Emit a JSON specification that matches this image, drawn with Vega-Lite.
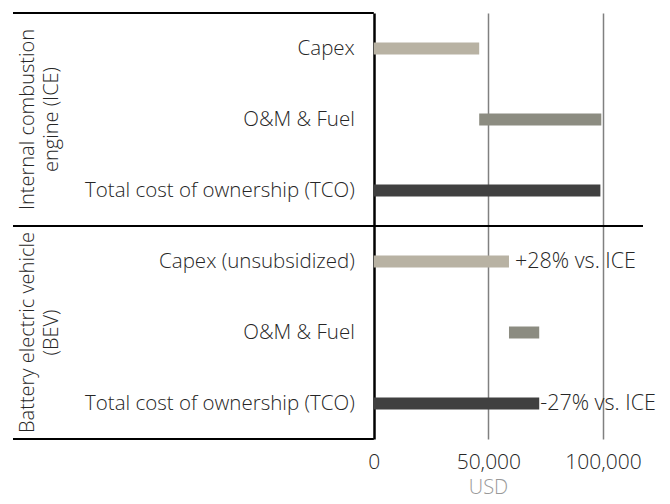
{
  "$schema": "https://vega.github.io/schema/vega-lite/v6.json",
  "width": 630,
  "height": 426,
  "padding": {"left": 12, "top": 12, "right": 10, "bottom": 2},
  "autosize": {"type": "pad"},
  "config": {"view": {"stroke": null}, "font": "Open Sans", "text": {"lineBreak": "\n", "fontWeight": 300}},
  "data": {"values": [
    {"key": "ICE|Capex", "item": "Capex", "label": "Capex", "start": 0, "end": 46000, "note": ""},
    {"key": "ICE|OM", "item": "O&M & Fuel", "label": "O&M & Fuel", "start": 46000, "end": 99300, "note": ""},
    {"key": "ICE|TCO", "item": "TCO", "label": "Total cost of ownership (TCO)", "start": 0, "end": 98900, "note": ""},
    {"key": "BEV|Capex", "item": "Capex", "label": "Capex (unsubsidized)", "start": 0, "end": 59000, "note": "+28% vs. ICE"},
    {"key": "BEV|OM", "item": "O&M & Fuel", "label": "O&M & Fuel", "start": 59000, "end": 72200, "note": ""},
    {"key": "BEV|TCO", "item": "TCO", "label": "Total cost of ownership (TCO)", "start": 0, "end": 72200, "note": "-27% vs. ICE"}
  ]},
  "encoding": {
    "y": {"field": "key", "type": "nominal", "sort": null, "scale": {"paddingInner": 0, "paddingOuter": 0}, "axis": null}
  },
  "layer": [
    {
      "mark": {"type": "bar", "size": 12},
      "encoding": {
        "x": {
          "field": "start", "type": "quantitative",
          "scale": {"domain": [-157500, 117500], "nice": false, "zero": false},
          "axis": {
            "values": [0, 50000, 100000], "format": ",d", "grid": true,
            "gridColor": {"condition": {"test": "datum.value === 0", "value": "#000000"}, "value": "#808080"},
            "gridWidth": {"condition": {"test": "datum.value === 0", "value": 2.5}, "value": 1.5},
            "domain": false, "ticks": false,
            "labelFontSize": 21, "labelFontWeight": 300, "labelColor": "#262626", "labelPadding": 12,
            "title": "USD", "titleColor": "#999999", "titleFontSize": 20, "titleFontWeight": 300, "titlePadding": 5, "titleX": 475
          }
        },
        "x2": {"field": "end"},
        "color": {"field": "item", "type": "nominal", "scale": {"domain": ["Capex", "O&M & Fuel", "TCO"], "range": ["#b8b2a3", "#8c8c81", "#404040"]}, "legend": null}
      }
    },
    {
      "mark": {"type": "text", "align": "right", "baseline": "middle", "dx": -19, "fontSize": 20.5, "color": "#262626"},
      "encoding": {"x": {"datum": 0}, "text": {"field": "label"}}
    },
    {
      "data": {"values": [
        {"key": "ICE|OM", "group": "Internal combustion\nengine (ICE)"},
        {"key": "BEV|OM", "group": "Battery electric vehicle\n(BEV)"}
      ]},
      "mark": {"type": "text", "align": "center", "baseline": "middle", "angle": 270, "fontSize": 20, "color": "#262626", "lineHeight": 24},
      "encoding": {"x": {"datum": -151000}, "text": {"field": "group"}}
    },
    {
      "transform": [{"filter": "datum.key === 'BEV|Capex'"}],
      "mark": {"type": "text", "align": "left", "baseline": "middle", "dx": 6, "fontSize": 21.5, "color": "#262626"},
      "encoding": {"x": {"field": "end", "type": "quantitative"}, "text": {"field": "note"}}
    },
    {
      "transform": [{"filter": "datum.key === 'BEV|TCO'"}],
      "mark": {"type": "text", "align": "left", "baseline": "middle", "dx": 1, "fontSize": 21.5, "color": "#262626"},
      "encoding": {"x": {"field": "end", "type": "quantitative"}, "text": {"field": "note"}}
    },
    {
      "transform": [{"filter": "datum.key === 'ICE|Capex'"}],
      "mark": {"type": "rule", "color": "#000000", "strokeWidth": 2},
      "encoding": {"x": {"datum": -157500}, "x2": {"datum": 0}, "y": {"field": "key", "type": "nominal", "sort": null, "bandPosition": 0}}
    },
    {
      "transform": [{"filter": "datum.key === 'BEV|TCO'"}],
      "mark": {"type": "rule", "color": "#000000", "strokeWidth": 2},
      "encoding": {"x": {"datum": -157500}, "x2": {"datum": 0}, "y": {"field": "key", "type": "nominal", "sort": null, "bandPosition": 1}}
    },
    {
      "transform": [{"filter": "datum.key === 'BEV|Capex'"}],
      "mark": {"type": "rule", "color": "#000000", "strokeWidth": 2},
      "encoding": {"x": {"datum": -157500}, "x2": {"datum": 117500}, "y": {"field": "key", "type": "nominal", "sort": null, "bandPosition": 0}}
    }
  ]
}
